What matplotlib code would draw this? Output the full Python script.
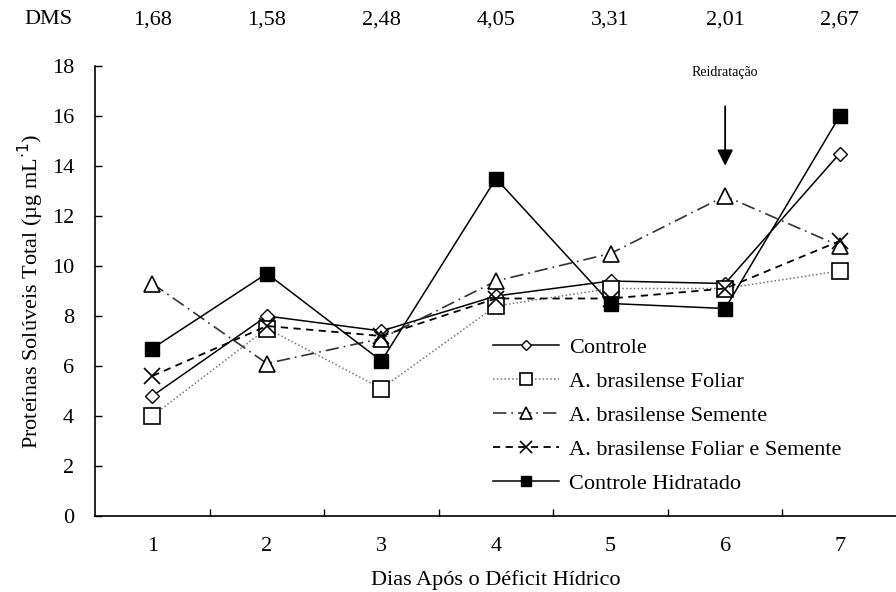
import matplotlib
matplotlib.use("Agg")
import matplotlib.pyplot as plt
from matplotlib.ticker import FixedLocator

plt.rcParams['font.family'] = ['Liberation Serif', 'DejaVu Serif']

dias = [1, 2, 3, 4, 5, 6, 7]
dms = ["1,68", "1,58", "2,48", "4,05", "3,31", "2,01", "2,67"]

controle = [4.8, 8.0, 7.4, 8.8, 9.4, 9.3, 14.5]
foliar = [4.0, 7.5, 5.1, 8.4, 9.1, 9.1, 9.8]
semente = [9.3, 6.1, 7.1, 9.4, 10.5, 12.8, 10.8]
foliar_semente = [5.6, 7.6, 7.2, 8.7, 8.7, 9.1, 11.0]
hidratado = [6.7, 9.7, 6.2, 13.5, 8.5, 8.3, 16.0]

W, H = 896, 592
fig = plt.figure(figsize=(W / 100, H / 100), dpi=100)
ax = fig.add_axes([95 / W, 76 / H, 802 / W, 450 / H])

fs = 16
ax.plot(dias, controle, color='black', lw=1.1, ls='-', marker='D', ms=7,
        mfc='white', mec='black', mew=1.0, label='Controle')
ax.plot(dias, foliar, color='#777777', lw=1.1, ls=(0, (1, 1.5)), marker='s', ms=11,
        mfc='white', mec='black', mew=1.2, label='A. brasilense Foliar')
ax.plot(dias, semente, color='#333333', lw=1.2, ls=(0, (8, 3, 1, 3)), marker='^', ms=12,
        mfc='white', mec='black', mew=1.2, label='A. brasilense Semente')
ax.plot(dias, foliar_semente, color='black', lw=1.3, ls=(0, (4, 3)), marker='x', ms=12,
        mec='black', mew=1.2, label='A. brasilense Foliar e Semente')
ax.plot(dias, hidratado, color='black', lw=1.1, ls='-', marker='s', ms=10,
        mfc='black', mec='black', label='Controle Hidratado')

ax.set_xlim(0.5, 7.5)
ax.set_ylim(0, 18)
ax.set_yticks(range(0, 19, 2))
ax.set_xticks(dias)
ax.xaxis.set_minor_locator(FixedLocator([1.5, 2.5, 3.5, 4.5, 5.5, 6.5]))
ax.tick_params(axis='x', which='major', length=0, pad=15, labelsize=fs)
ax.tick_params(axis='x', which='minor', direction='in', length=5, width=1)
ax.tick_params(axis='y', direction='in', length=5, width=1, pad=15, labelsize=fs)

for s in ('top', 'right'):
    ax.spines[s].set_visible(False)
for s in ('left', 'bottom'):
    ax.spines[s].set_linewidth(1.2)

ax.set_xlabel('Dias Após o Déficit Hídrico', fontsize=fs, labelpad=10)
ax.set_ylabel('Proteínas Solúveis Total (µg mL$^{\\cdot 1}$)', fontsize=fs, labelpad=4)

# DMS row above the plot
fig.text(48 / W, 1 - 20 / H, 'DMS', fontsize=fs, ha='center', va='center')
for d, v in zip(dias, dms):
    ax.annotate(v, xy=(d, 1), xycoords=('data', 'axes fraction'),
                xytext=(0, 33), textcoords='offset points',
                fontsize=fs, ha='center', va='center')

# Rehydration arrow
ax.annotate('', xy=(6, 13.9), xytext=(6, 16.5),
            arrowprops=dict(arrowstyle='-|>', color='black', lw=1.3,
                            mutation_scale=24))
ax.text(6, 17.75, 'Reidratação', fontsize=10, ha='center', va='center')

leg = ax.legend(loc='lower right', bbox_to_anchor=(0.956, 0.005), frameon=False,
                fontsize=fs, handlelength=3.0, handletextpad=0.45, labelspacing=0.6,
                markerscale=0.75)
fig.savefig('out.png', dpi=100)
